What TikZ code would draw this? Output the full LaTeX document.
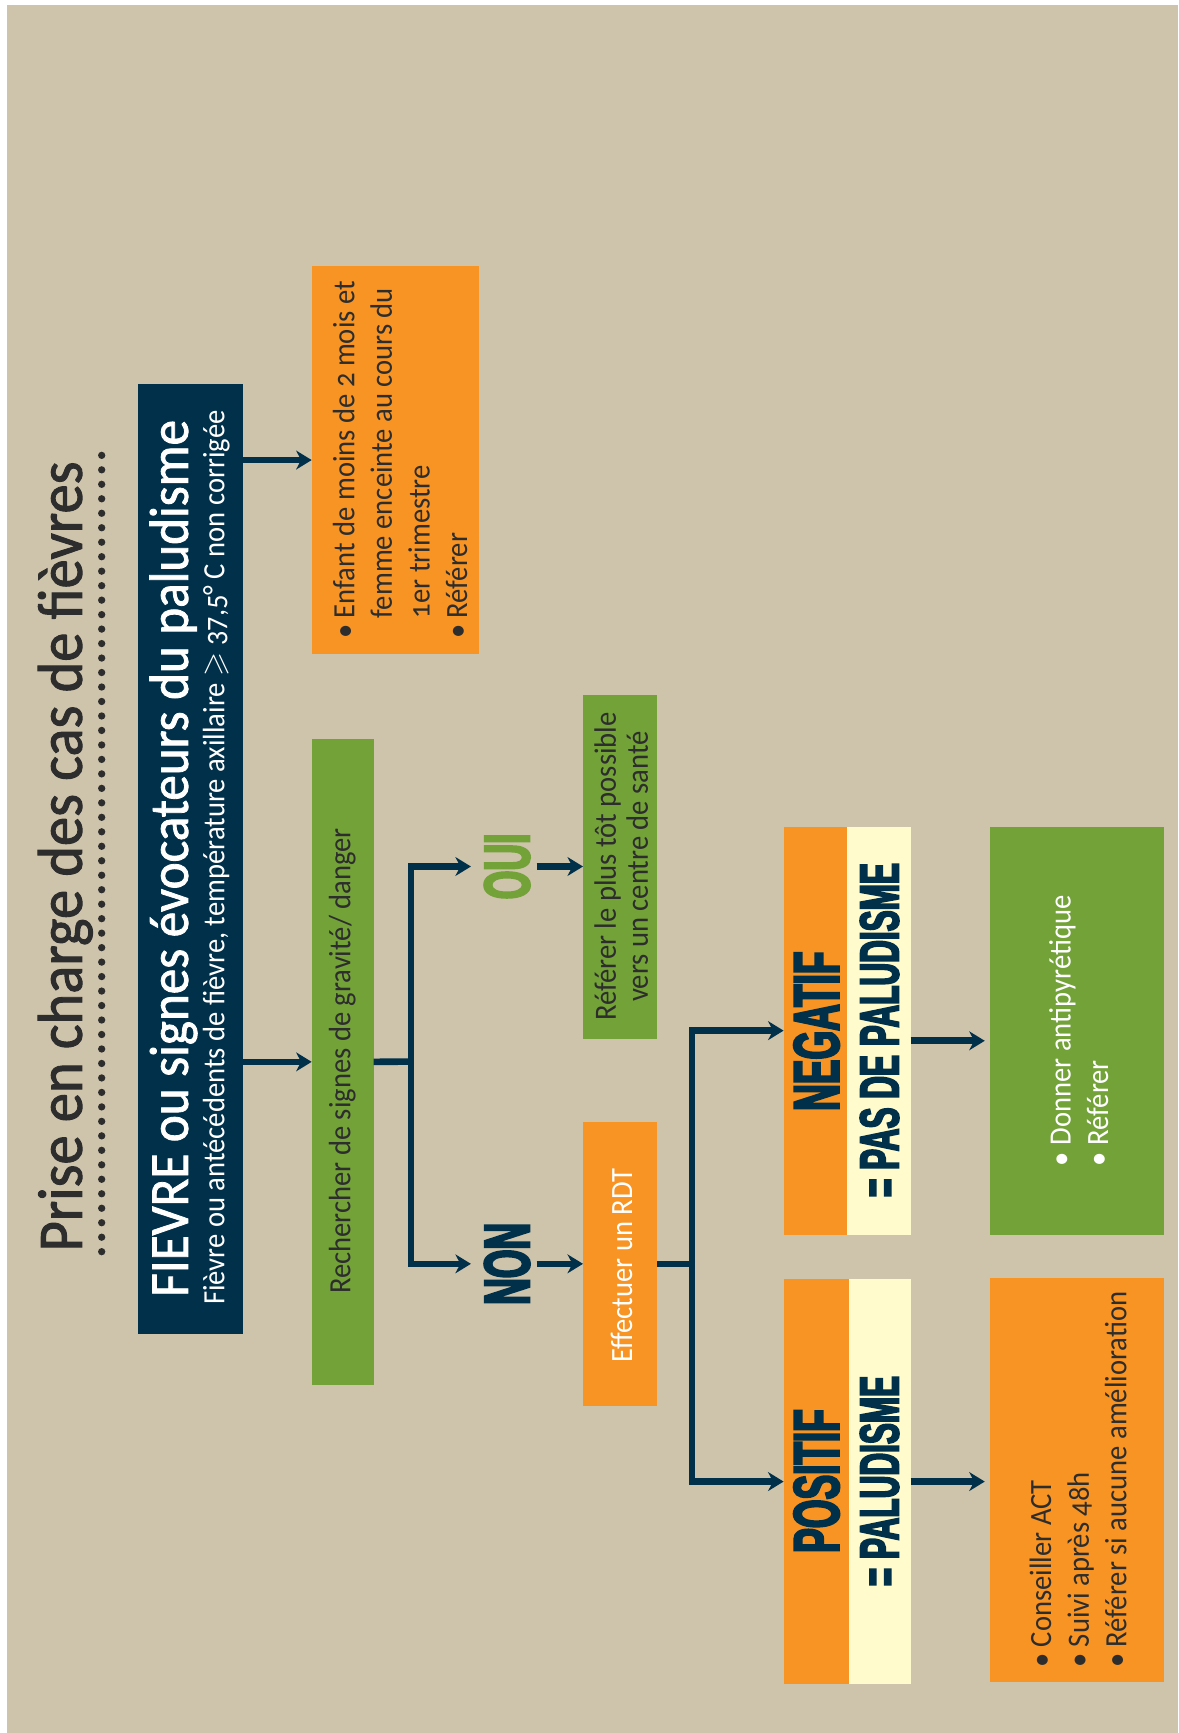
\documentclass[tikz,border=0pt]{standalone}
\usepackage{amssymb}
\usepackage{fontspec}
\setmainfont{Carlito}[FakeStretch=0.925, Numbers=OldStyle]
\newfontfamily\medfont{Carlito}[FakeStretch=0.925, FakeBold=1.5, Numbers=OldStyle]
\newfontfamily\heavyfont{Liberation Sans}[FakeStretch=0.57, FakeBold=3]
\usetikzlibrary{arrows.meta, fit}

\definecolor{paper}{RGB}{206,195,171}
\definecolor{navy}{RGB}{0,48,74}
\definecolor{orangebox}{RGB}{247,148,35}
\definecolor{greenbox}{RGB}{115,162,56}
\definecolor{cream}{RGB}{255,251,204}
\definecolor{ink}{RGB}{45,45,45}

\tikzset{
  box/.style={inner sep=0pt, outer sep=0pt, draw=none},
  txt/.style={rotate=90, inner sep=0pt, outer sep=0pt},
  body/.style={txt, font=\fontsize{14}{17}\selectfont},
  heavy/.style={txt, text=navy, font=\heavyfont\bfseries\fontsize{29.3}{30}\selectfont},
  heavysub/.style={txt, text=navy, font=\heavyfont\bfseries\fontsize{25}{26}\selectfont},
  link/.style={draw=navy, line width=3pt},
  arr/.style={link, -{Stealth[length=7pt, width=8.5pt, inset=2.2pt]}},
}

\begin{document}
\begin{tikzpicture}[x=0.5pt, y=-0.5pt]
  \useasboundingbox (0,0) rectangle (1066,1568);
  \fill[white] (0,0) rectangle (1066,1568);
  \fill[paper] (6,4.5) rectangle (1066,1568);

  % heading with its dotted rule
  \node[txt, anchor=base, text=ink, font=\medfont\fontsize{28.6}{30}\selectfont]
    (title) at (74,775) {Prise en charge des cas de fièvres};
  \draw[ink, line width=3.3pt, line cap=round, dash pattern=on 0pt off 6.55pt]
    (92,412) -- (92,1140);

  % boxes
  \node[box, fill=navy, fit={(125,347) (220,1207)}] (fievre) {};
  \node[box, fill=orangebox, fit={(282,241) (433.5,591.5)}] (enfant) {};
  \node[box, fill=greenbox, fit={(282,668.5) (338,1253)}] (recherche) {};
  \node[box, fill=greenbox, fit={(527.5,628.6) (594.5,940)}] (referer) {};
  \node[box, fill=orangebox, fit={(527.5,1015) (594.5,1272)}] (rdt) {};
  \node[box, fill=orangebox, fit={(709,748) (824,1117)}] (neg) {};
  \node[box, fill=cream, fit={(766,748) (824,1117)}] (negc) {};
  \node[box, fill=orangebox, fit={(709,1157) (824,1524)}] (pos) {};
  \node[box, fill=cream, fit={(768,1157) (824,1524)}] (posc) {};
  \node[box, fill=greenbox, fit={(896,748) (1053,1117)}] (donner) {};
  \node[box, fill=orangebox, fit={(896,1156) (1053,1522)}] (conseil) {};

  % texts
  \node[txt, anchor=base, text=white, font=\medfont\fontsize{25}{27}\selectfont]
    (fievre-t) at (170,776.5) {FIEVRE ou signes évocateurs du paludisme};
  \node[body, anchor=base, text=white]
    (fievre-s) at (203,776) {Fièvre ou antécédents de fièvre, température axillaire $\geqslant$ 37,5° C non corrigée};

  \node[body, anchor=west, align=left, text=ink] (enfant-t) at (362,578)
    {\textbullet\ Enfant de moins de 2 mois et\\
     \hphantom{\textbullet\ }femme enceinte au cours du\\
     \hphantom{\textbullet\ }1er trimestre\\
     \textbullet\ Référer};

  \node[body, anchor=base, text=ink] (recherche-t) at (317,960)
    {Rechercher de signes de gravité/ danger};

  \node[heavy, anchor=base, text=greenbox] (oui) at (479,784) {OUI};
  \node[heavy, anchor=base] (non) at (479,1143.5) {NON};

  \node[txt, anchor=center, align=center, text=ink, font=\fontsize{14}{14.5}\selectfont]
    (referer-t) at (562,784) {Référer le plus tôt possible\\vers un centre de santé};
  \node[body, anchor=base, text=white] (rdt-t) at (572,1145) {Effectuer un RDT};

  \node[heavy, anchor=base] (neg-t) at (759,933) {NEGATIF};
  \node[heavysub, anchor=base] (neg-s) at (813,932) {= PAS DE PALUDISME};
  \node[heavy, anchor=base] (pos-t) at (759,1340) {POSITIF};
  \node[heavysub, anchor=base] (pos-s) at (813,1340) {= PALUDISME};

  \node[body, anchor=west, align=left, text=white] (donner-t) at (976,1055)
    {\textbullet\ Donner antipyrétique\\
     \textbullet\ Référer};
  \node[body, anchor=west, align=left, text=ink] (conseil-t) at (975.5,1509)
    {\textbullet\ Conseiller ACT\\
     \textbullet\ Suivi après 48h\\
     \textbullet\ Référer si aucune amélioration};

  % connectors
  \draw[arr] (fievre.east |- enfant.west) -- (enfant.west);
  \draw[arr] (fievre.east |- recherche.west) -- (recherche.west);

  \coordinate (j1) at (372,960.5);
  \draw[link] (recherche.east) -- (j1);
  \draw[arr, shorten >=6pt] (j1) |- (oui);
  \draw[arr, shorten >=6pt] (j1) |- (non);
  \draw[arr, shorten <=3pt] (oui) -- (oui -| referer.west);
  \draw[arr, shorten <=3pt] (non) -- (non -| rdt.west);

  \coordinate (j2) at (626,1143.5);
  \draw[link] (rdt.east) -- (j2);
  \draw[arr] (j2) |- (neg.west);
  \draw[arr] (j2) |- (pos.west);

  \path ([yshift=-4.6pt]neg.east) coordinate (negout);
  \draw[arr, shorten >=2.5pt] (negout) -- (negout -| donner.west);
  \draw[arr, shorten >=2.5pt] (pos.east) -- (pos.east -| conseil.west);
\end{tikzpicture}
\end{document}
